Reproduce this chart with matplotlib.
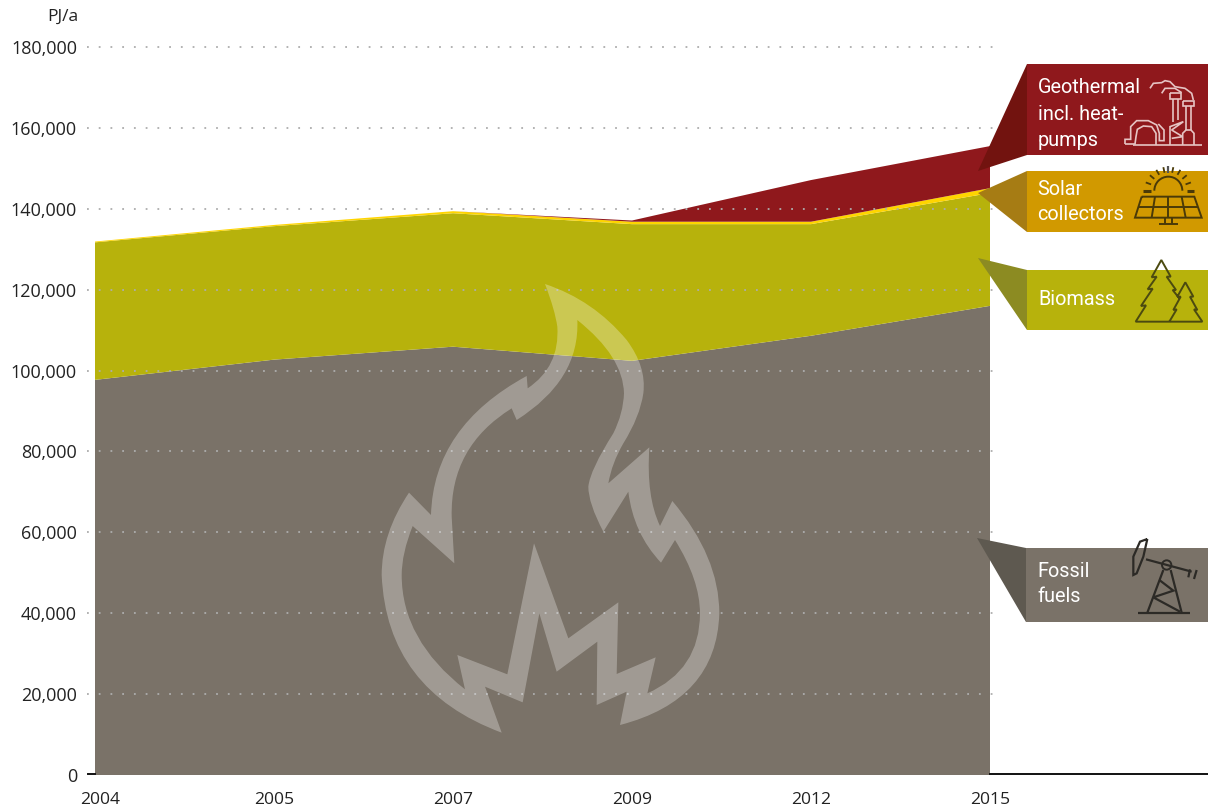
import numpy as np
import matplotlib
matplotlib.use('Agg')
import matplotlib.pyplot as plt
from matplotlib.path import Path
from matplotlib.patches import PathPatch, Polygon, Rectangle, Circle, Arc
from matplotlib.transforms import ScaledTranslation

plt.rcParams['font.family'] = ['Open Sans', 'DejaVu Sans']

years = ['2004', '2005', '2007', '2009', '2012', '2015']
fossil = [97700, 102700, 105900, 102400, 108600, 116000]
biomass = [34000, 33000, 33000, 33800, 27600, 27900]
solar = [200, 300, 500, 600, 600, 1200]
geothermal = [0, 0, 0, 300, 10300, 10400]
y_ticks = [0, 20000, 40000, 60000, 80000, 100000, 120000, 140000, 160000, 180000]
colors = ['#7A7268', '#B7B20C', '#FFD500', '#8F181C']

W, H = 1208, 809
fig = plt.figure(figsize=(W / 100, H / 100), dpi=100)

# main chart, pixel box 95..990 / 47..775
ax = fig.add_axes([95 / W, (H - 775) / H, 895 / W, 728 / H])
x = np.arange(len(years))
ax.stackplot(x, fossil, biomass, solar, geothermal, colors=colors, lw=0)
ax.set_xlim(0, 5)
ax.set_ylim(0, 180000)
for s in ax.spines.values():
    s.set_visible(False)
ax.set_xticks(x)
ax.set_xticklabels(years, fontsize=12.6, color='#222222')
ax.set_yticks(y_ticks)
ax.set_yticklabels([f'{v:,}' for v in y_ticks], fontsize=13, color='#222222')
ax.tick_params(length=0, axis='x', pad=12)
ax.tick_params(length=0, axis='y', pad=13)
shift = ScaledTranslation(5 / 100, 0, fig.dpi_scale_trans)
lab = ax.get_xticklabels()[0]
lab.set_transform(lab.get_transform() + shift)

# dotted grid, runs a bit past the plot on both sides
for v in y_ticks[1:]:
    end = 1.003 if v == 180000 else 1.008
    ax.plot([-0.009, end], [v, v], transform=ax.get_yaxis_transform(), clip_on=False,
            color='#ADADAD', lw=1.3, ls=(0, (1, 5.5)), zorder=3)

# overlay in pixel coords for flame, callouts and icons
ov = fig.add_axes([0, 0, 1, 1], zorder=5)
ov.set_xlim(0, W)
ov.set_ylim(H, 0)
ov.axis('off')
ov.patch.set_alpha(0)

ov.plot([88, 95], [774, 774], color='#111111', lw=1.4)
ov.plot([990, W], [774, 774], color='#111111', lw=1.4)
ov.text(78, 17, 'PJ/a', ha='right', va='center', fontsize=12.5, color='#222222')


def zoomed(p, ox, oy):
    return (ox + p[0] / 3, oy + p[1] / 3)


def build_path(segs, ox, oy):
    # segs: start point, then (end,) for a line or (ctrl, end) for a curve
    verts, codes = [], []
    verts.append(zoomed(segs[0], ox, oy))
    codes.append(Path.MOVETO)
    for s in segs[1:]:
        if len(s) == 1:
            verts.append(zoomed(s[0], ox, oy))
            codes.append(Path.LINETO)
        else:
            verts.append(zoomed(s[0], ox, oy))
            verts.append(zoomed(s[1], ox, oy))
            codes += [Path.CURVE3, Path.CURVE3]
    return verts, codes


# flame
outer = [(555, 42), ((700, 90), (800, 210)), ((860, 290), (850, 370)), ((840, 440), (790, 520)),
         ((755, 580), (745, 640)), ((868, 532),), ((858, 680), (900, 768)), ((937, 693),),
         ((1078, 860), (1078, 1030)), ((1070, 1290), (780, 1365)), ((800, 1265),), ((710, 1305),),
         ((712, 1115),), ((590, 1205),), ((538, 1030),), ((488, 1297),), ((375, 1250),), ((425, 1388),),
         ((80, 1260), (65, 915)), ((65, 790), (147, 668)), ((213, 735),), ((220, 470), (500, 318)),
         ((503, 355),), ((600, 290), (592, 170)), ((585, 120), (555, 42))]
inner = [(652, 150), ((660, 330), (470, 450)), ((455, 415),), ((270, 530), (275, 740)), ((283, 880),),
         ((158, 768),), ((125, 850), (125, 915)), ((125, 1110), (315, 1258)), ((292, 1155),), ((442, 1213),),
         ((522, 820),), ((625, 1105),), ((775, 997),), ((770, 1212),), ((887, 1162),), ((862, 1270),),
         ((1020, 1200), (1020, 1030)), ((1020, 930), (945, 810)), ((903, 878),), ((820, 790), (805, 665)),
         ((730, 785),), ((685, 700), (685, 650)), ((690, 600), (760, 490)), ((790, 430), (792, 370)),
         ((790, 260), (652, 150))]
v1, c1 = build_path(outer, 360, 270)
v2, c2 = build_path(inner, 360, 270)
flame = Path(v1 + v2, c1 + c2)
ov.add_patch(PathPatch(flame, fc='white', ec='none', alpha=0.29))

# callouts
ov.add_patch(Rectangle((1027, 64), 181, 91, fc='#8F181C', ec='none'))
ov.add_patch(Polygon([(1027, 64), (1027, 155), (978, 171)], fc='#72130F', ec='none'))
ov.add_patch(Rectangle((1027, 171), 181, 61, fc='#D19900', ec='none'))
ov.add_patch(Polygon([(1027, 171), (1027, 232), (978, 193)], fc='#A67C14', ec='none'))
ov.add_patch(Rectangle((1027, 270), 181, 60, fc='#B7B20C', ec='none'))
ov.add_patch(Polygon([(978, 258), (1027, 270), (1027, 330)], fc='#8C8B22', ec='none'))
ov.add_patch(Rectangle((1026, 548), 182, 74, fc='#7A7268', ec='none'))
ov.add_patch(Polygon([(977, 538), (1026, 548), (1026, 622)], fc='#5E5950', ec='none'))

txt = dict(color='white', fontsize=14.3, va='center', ha='left', family=['Roboto', 'DejaVu Sans'])
ov.text(1038, 87, 'Geothermal', **txt)
ov.text(1038, 114, 'incl. heat-', **txt)
ov.text(1038, 140, 'pumps', **txt)
ov.text(1037, 189.5, 'Solar', **txt)
ov.text(1037, 214.5, 'collectors', **txt)
ov.text(1038, 299.5, 'Biomass', **txt)
ov.text(1037, 571.5, 'Fossil', **txt)
ov.text(1037, 596.5, 'fuels', **txt)


def icon_line(pts, ox, oy, color, lw):
    xy = np.array([zoomed(p, ox, oy) for p in pts])
    ov.plot(xy[:, 0], xy[:, 1], color=color, lw=lw, solid_joinstyle='miter', solid_capstyle='butt')


# geothermal plant
pink = '#E6C4C4'
for pts in [[(90, 55), (100, 40), (125, 38), (135, 32), (150, 35), (165, 50), (195, 55), (215, 70), (220, 90)],
            [(125, 70), (135, 55), (165, 55), (185, 68)],
            [(150, 70), (183, 70), (183, 88), (150, 88), (150, 70)],
            [(158, 88), (158, 155)], [(175, 88), (175, 150)],
            [(190, 92), (222, 92), (222, 108), (190, 108), (190, 92)],
            [(198, 108), (198, 180)], [(213, 108), (213, 180)],
            [(188, 225), (188, 190), (198, 180), (213, 180), (222, 190), (222, 225)],
            [(38, 225), (245, 225)],
            [(15, 222), (15, 208), (32, 208), (32, 170), (50, 152), (85, 152), (110, 165), (118, 190),
             (118, 212), (132, 212), (132, 180), (115, 162)],
            [(15, 222), (45, 222), (48, 200), (52, 178), (70, 168), (95, 170), (108, 190), (108, 225)],
            [(150, 225), (150, 170), (190, 155), (155, 180), (188, 200), (155, 205)]]:
    icon_line(pts, 1120, 70, pink, 1.2)

# solar panel
dark = '#4A3A08'
for pts in [[(545, 440), (703, 440), (725, 503), (525, 503), (545, 440)],
            [(535, 472), (715, 472)], [(585, 440), (575, 503)], [(625, 440), (625, 503)], [(665, 440), (677, 503)],
            [(615, 503), (615, 522)], [(635, 503), (635, 522)], [(597, 522), (653, 522)]]:
    icon_line(pts, 960, 50, dark, 1.4)
for pts in [[(550, 422), (572, 422)], [(680, 422), (702, 422)]]:
    icon_line(pts, 960, 50, dark, 2.2)
ov.add_patch(Arc((960 + 625 / 3, 50 + 422 / 3), 84 / 3, 84 / 3, theta1=180, theta2=360, color=dark, lw=1.4))
for deg in [-70, -50, -30, -12, 12, 30, 50, 70]:
    t = np.radians(deg)
    icon_line([(625 + 55 * np.sin(t), 422 - 55 * np.cos(t)), (625 + 72 * np.sin(t), 422 - 72 * np.cos(t))],
              960, 50, dark, 1.3)
icon_line([(625, 348), (625, 368)], 960, 50, '#555555', 1.6)

# trees
tree_col = '#4B4A10'
icon_line([(658, 745), (638, 720), (648, 720), (620, 680), (632, 680), (604, 630), (575, 682), (590, 680),
           (563, 718), (578, 716), (543, 768), (558, 766), (527, 815), (727, 815), (702, 778), (712, 780),
           (690, 740), (700, 740), (676, 697), (652, 740), (662, 740), (640, 780), (650, 778), (628, 815)],
          960, 50, tree_col, 1.4)

# pumpjack
jack = '#2C2A26'
for pts in [[(558, 118), (695, 155)], [(610, 150), (562, 278)], [(632, 150), (665, 278)],
            [(598, 180), (640, 212), (580, 232), (660, 275)], [(535, 279), (690, 279)],
            [(690, 148), (685, 172)], [(710, 150), (702, 177)],
            [(562, 57), (540, 65), (520, 110), (520, 165), (530, 160), (550, 110), (562, 57)]]:
    icon_line(pts, 960, 520, jack, 1.6)
ov.add_patch(Circle((960 + 620 / 3, 520 + 135 / 3), 14 / 3, fc='#7A7268', ec=jack, lw=1.4))

fig.savefig('out.png', dpi=100)
